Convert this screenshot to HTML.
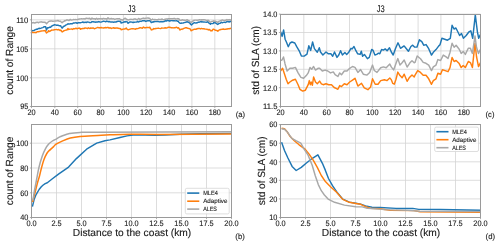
<!DOCTYPE html>
<html><head><meta charset="utf-8"><style>
html,body{margin:0;padding:0;background:#fff;width:500px;height:246px;overflow:hidden}
svg{display:block;will-change:transform;text-rendering:geometricPrecision}
</style></head><body>
<svg width="500" height="246" viewBox="0 0 500 246" font-family='"Liberation Sans", sans-serif'>
<rect width="500" height="246" fill="#fff"/>
<g>
<line x1="31.5" y1="14.5" x2="31.5" y2="106.5" stroke="#d4d4d4" stroke-width="0.8"/>
<line x1="54.8" y1="14.5" x2="54.8" y2="106.5" stroke="#d4d4d4" stroke-width="0.8"/>
<line x1="77.7" y1="14.5" x2="77.7" y2="106.5" stroke="#d4d4d4" stroke-width="0.8"/>
<line x1="100.5" y1="14.5" x2="100.5" y2="106.5" stroke="#d4d4d4" stroke-width="0.8"/>
<line x1="123.4" y1="14.5" x2="123.4" y2="106.5" stroke="#d4d4d4" stroke-width="0.8"/>
<line x1="146.2" y1="14.5" x2="146.2" y2="106.5" stroke="#d4d4d4" stroke-width="0.8"/>
<line x1="169.1" y1="14.5" x2="169.1" y2="106.5" stroke="#d4d4d4" stroke-width="0.8"/>
<line x1="191.9" y1="14.5" x2="191.9" y2="106.5" stroke="#d4d4d4" stroke-width="0.8"/>
<line x1="214.8" y1="14.5" x2="214.8" y2="106.5" stroke="#d4d4d4" stroke-width="0.8"/>
<line x1="31.5" y1="106.5" x2="231.5" y2="106.5" stroke="#d4d4d4" stroke-width="0.8"/>
<line x1="31.5" y1="77.8" x2="231.5" y2="77.8" stroke="#d4d4d4" stroke-width="0.8"/>
<line x1="31.5" y1="48.8" x2="231.5" y2="48.8" stroke="#d4d4d4" stroke-width="0.8"/>
<line x1="31.5" y1="19.8" x2="231.5" y2="19.8" stroke="#d4d4d4" stroke-width="0.8"/>
<line x1="31.5" y1="124.5" x2="31.5" y2="217.5" stroke="#d4d4d4" stroke-width="0.8"/>
<line x1="56.5" y1="124.5" x2="56.5" y2="217.5" stroke="#d4d4d4" stroke-width="0.8"/>
<line x1="81.5" y1="124.5" x2="81.5" y2="217.5" stroke="#d4d4d4" stroke-width="0.8"/>
<line x1="106.5" y1="124.5" x2="106.5" y2="217.5" stroke="#d4d4d4" stroke-width="0.8"/>
<line x1="131.5" y1="124.5" x2="131.5" y2="217.5" stroke="#d4d4d4" stroke-width="0.8"/>
<line x1="156.5" y1="124.5" x2="156.5" y2="217.5" stroke="#d4d4d4" stroke-width="0.8"/>
<line x1="181.5" y1="124.5" x2="181.5" y2="217.5" stroke="#d4d4d4" stroke-width="0.8"/>
<line x1="206.5" y1="124.5" x2="206.5" y2="217.5" stroke="#d4d4d4" stroke-width="0.8"/>
<line x1="231.5" y1="124.5" x2="231.5" y2="217.5" stroke="#d4d4d4" stroke-width="0.8"/>
<line x1="31.5" y1="217.5" x2="231.5" y2="217.5" stroke="#d4d4d4" stroke-width="0.8"/>
<line x1="31.5" y1="192.8" x2="231.5" y2="192.8" stroke="#d4d4d4" stroke-width="0.8"/>
<line x1="31.5" y1="168.0" x2="231.5" y2="168.0" stroke="#d4d4d4" stroke-width="0.8"/>
<line x1="31.5" y1="143.2" x2="231.5" y2="143.2" stroke="#d4d4d4" stroke-width="0.8"/>
<line x1="280.5" y1="14.5" x2="280.5" y2="106.5" stroke="#d4d4d4" stroke-width="0.8"/>
<line x1="303.8" y1="14.5" x2="303.8" y2="106.5" stroke="#d4d4d4" stroke-width="0.8"/>
<line x1="326.7" y1="14.5" x2="326.7" y2="106.5" stroke="#d4d4d4" stroke-width="0.8"/>
<line x1="349.5" y1="14.5" x2="349.5" y2="106.5" stroke="#d4d4d4" stroke-width="0.8"/>
<line x1="372.4" y1="14.5" x2="372.4" y2="106.5" stroke="#d4d4d4" stroke-width="0.8"/>
<line x1="395.2" y1="14.5" x2="395.2" y2="106.5" stroke="#d4d4d4" stroke-width="0.8"/>
<line x1="418.1" y1="14.5" x2="418.1" y2="106.5" stroke="#d4d4d4" stroke-width="0.8"/>
<line x1="440.9" y1="14.5" x2="440.9" y2="106.5" stroke="#d4d4d4" stroke-width="0.8"/>
<line x1="463.8" y1="14.5" x2="463.8" y2="106.5" stroke="#d4d4d4" stroke-width="0.8"/>
<line x1="280.5" y1="106.5" x2="480.5" y2="106.5" stroke="#d4d4d4" stroke-width="0.8"/>
<line x1="280.5" y1="87.7" x2="480.5" y2="87.7" stroke="#d4d4d4" stroke-width="0.8"/>
<line x1="280.5" y1="69.3" x2="480.5" y2="69.3" stroke="#d4d4d4" stroke-width="0.8"/>
<line x1="280.5" y1="50.9" x2="480.5" y2="50.9" stroke="#d4d4d4" stroke-width="0.8"/>
<line x1="280.5" y1="32.5" x2="480.5" y2="32.5" stroke="#d4d4d4" stroke-width="0.8"/>
<line x1="280.5" y1="14.1" x2="480.5" y2="14.1" stroke="#d4d4d4" stroke-width="0.8"/>
<line x1="280.5" y1="124.5" x2="280.5" y2="217.5" stroke="#d4d4d4" stroke-width="0.8"/>
<line x1="305.5" y1="124.5" x2="305.5" y2="217.5" stroke="#d4d4d4" stroke-width="0.8"/>
<line x1="330.5" y1="124.5" x2="330.5" y2="217.5" stroke="#d4d4d4" stroke-width="0.8"/>
<line x1="355.5" y1="124.5" x2="355.5" y2="217.5" stroke="#d4d4d4" stroke-width="0.8"/>
<line x1="380.5" y1="124.5" x2="380.5" y2="217.5" stroke="#d4d4d4" stroke-width="0.8"/>
<line x1="405.5" y1="124.5" x2="405.5" y2="217.5" stroke="#d4d4d4" stroke-width="0.8"/>
<line x1="430.5" y1="124.5" x2="430.5" y2="217.5" stroke="#d4d4d4" stroke-width="0.8"/>
<line x1="455.5" y1="124.5" x2="455.5" y2="217.5" stroke="#d4d4d4" stroke-width="0.8"/>
<line x1="480.5" y1="124.5" x2="480.5" y2="217.5" stroke="#d4d4d4" stroke-width="0.8"/>
<line x1="280.5" y1="217.5" x2="480.5" y2="217.5" stroke="#d4d4d4" stroke-width="0.8"/>
<line x1="280.5" y1="198.9" x2="480.5" y2="198.9" stroke="#d4d4d4" stroke-width="0.8"/>
<line x1="280.5" y1="180.3" x2="480.5" y2="180.3" stroke="#d4d4d4" stroke-width="0.8"/>
<line x1="280.5" y1="161.8" x2="480.5" y2="161.8" stroke="#d4d4d4" stroke-width="0.8"/>
<line x1="280.5" y1="143.2" x2="480.5" y2="143.2" stroke="#d4d4d4" stroke-width="0.8"/>
<line x1="280.5" y1="124.6" x2="480.5" y2="124.6" stroke="#d4d4d4" stroke-width="0.8"/>
</g>
<polyline points="31.4,30.5 31.4,30.1 32.5,30.8 33.7,30.6 33.9,30.6 34.8,29.9 35.8,29.6 36.0,29.2 37.1,29.3 38.3,28.7 39.4,28.2 39.7,28.6 40.5,28.4 41.7,27.9 42.8,27.6 43.6,27.2 44.0,26.8 45.1,26.8 45.6,26.7 46.3,29.2 46.5,30.1 47.4,27.8 47.5,28.1 48.5,27.8 49.7,27.1 50.8,27.2 51.4,26.2 52.0,26.0 53.1,25.3 54.3,25.1 54.3,24.7 55.4,24.9 56.5,25.3 57.3,25.2 57.7,25.1 58.8,25.5 60.0,25.9 60.7,25.7 61.1,26.6 62.1,28.1 62.3,28.0 63.4,26.5 64.1,26.2 64.5,26.1 65.7,25.2 66.8,24.7 68.0,23.9 68.0,23.8 69.1,24.1 70.3,23.8 70.9,23.8 71.4,23.8 72.5,23.7 73.7,22.9 74.8,22.9 75.8,22.8 76.0,22.6 77.1,23.3 78.3,22.6 79.4,22.8 80.5,22.7 81.7,22.4 82.8,22.0 84.0,22.7 85.1,22.2 85.5,22.3 86.3,22.5 87.4,21.9 88.6,22.1 89.7,22.5 90.8,22.6 92.0,21.7 93.1,21.7 94.3,22.0 95.3,22.0 95.4,22.2 96.6,22.0 97.7,22.0 98.8,21.6 100.0,22.0 101.1,22.1 102.3,21.6 103.4,21.3 104.6,21.4 105.7,21.8 106.0,21.6 106.8,21.1 108.0,21.7 109.1,21.5 110.3,21.9 111.4,21.9 111.8,22.0 112.6,21.9 113.7,22.3 114.8,21.9 116.0,22.0 117.1,21.5 118.3,21.3 119.4,21.4 119.6,21.3 120.6,21.5 121.1,23.0 121.7,22.8 122.8,22.5 123.5,22.3 124.0,21.8 125.1,22.0 126.3,21.5 126.4,21.6 127.4,22.0 127.9,23.3 128.6,22.9 129.7,22.0 130.3,22.0 130.8,21.9 132.0,22.1 133.1,22.7 133.3,22.3 134.3,22.2 135.4,22.1 136.6,22.1 137.7,21.3 138.1,21.8 138.8,22.0 140.0,21.2 141.1,21.4 142.3,20.8 143.4,20.6 144.0,20.8 144.6,20.7 145.7,21.4 146.8,21.0 148.0,20.6 149.1,20.7 149.8,20.8 150.3,21.0 151.3,22.6 151.4,22.6 152.6,22.0 153.7,21.8 153.7,22.0 154.8,21.4 156.0,21.6 157.1,21.5 158.3,21.5 159.4,21.9 160.6,21.7 161.5,21.6 161.7,21.7 162.8,21.8 164.0,21.6 165.1,20.7 166.3,21.1 167.4,20.3 168.6,20.7 169.3,20.6 169.7,21.2 170.8,20.6 172.0,20.6 173.1,20.8 174.3,20.8 175.4,20.9 176.6,20.7 177.7,21.3 178.1,21.0 178.8,22.2 180.0,23.2 180.0,23.3 181.1,23.2 182.0,23.0 182.3,23.1 183.4,23.0 183.9,22.6 184.6,22.5 185.7,22.3 186.8,21.8 186.8,21.7 188.0,22.0 189.1,22.6 189.8,23.0 190.3,23.9 191.2,24.7 191.4,24.9 192.6,23.9 193.7,23.0 194.6,22.6 194.8,22.7 196.0,23.0 197.1,22.8 198.3,22.1 199.4,22.2 200.6,21.6 201.5,22.0 201.7,21.6 202.9,22.0 204.0,21.9 205.1,22.1 206.3,22.2 207.4,22.0 207.9,21.7 208.6,22.8 209.7,23.3 210.4,24.2 210.9,23.6 212.0,23.6 213.1,23.6 213.8,22.5 214.3,22.8 215.4,22.8 216.6,23.7 217.7,24.5 218.1,24.2 218.9,23.5 220.0,23.4 221.1,22.5 221.1,22.3 222.3,22.7 223.4,22.4 224.6,22.2 225.7,22.5 226.9,21.6 227.4,21.7 228.0,21.4 229.1,22.1 230.3,21.2 231.4,22.0 231.5,21.3" fill="none" stroke="#1f77b4" stroke-width="1.45" stroke-linejoin="round" stroke-linecap="butt"/>
<polyline points="31.4,33.2 31.4,32.5 32.5,32.3 33.7,32.6 34.8,32.5 35.8,32.5 36.0,32.7 37.1,31.8 38.3,31.8 39.4,31.4 39.7,31.6 40.5,31.1 41.7,31.0 42.8,30.9 44.0,30.7 45.1,30.6 45.1,30.4 46.3,32.7 46.5,33.0 47.4,32.2 48.5,31.6 48.5,30.6 49.7,31.5 50.8,30.6 52.0,30.0 52.4,30.1 53.1,30.1 54.3,29.8 55.3,29.6 55.4,29.6 56.5,29.5 57.7,29.9 58.8,29.5 60.0,30.5 60.7,30.1 61.1,30.3 62.1,32.0 62.3,31.8 63.4,31.1 64.1,30.6 64.5,30.6 65.7,30.1 66.8,30.0 68.0,28.5 68.0,29.6 69.1,29.3 70.3,29.1 70.9,29.1 71.4,28.9 72.5,29.4 73.7,28.6 74.8,28.8 76.0,28.2 77.1,28.8 78.3,28.2 79.4,28.1 80.5,29.3 80.6,28.6 81.7,28.8 82.8,28.5 84.0,28.5 85.1,28.0 86.3,28.1 87.4,28.5 88.6,27.8 89.7,28.5 90.4,28.4 90.8,27.8 92.0,28.3 93.1,27.9 94.3,28.7 95.4,28.4 96.6,27.9 97.7,27.4 98.8,27.7 100.0,27.8 100.1,27.9 101.1,27.5 102.3,27.9 103.4,28.0 104.6,27.7 105.7,27.5 106.0,27.7 106.8,27.7 106.9,27.5 108.0,27.5 109.1,28.0 110.3,27.8 111.4,28.5 111.8,28.1 112.6,28.0 113.7,27.8 114.8,28.2 116.0,28.0 117.1,28.0 118.3,28.3 119.4,28.6 119.6,28.4 120.6,28.6 121.1,29.8 121.7,29.6 122.8,29.2 123.5,29.1 124.0,28.9 125.1,28.9 126.3,28.0 126.4,28.4 127.4,29.4 128.2,29.8 128.6,29.6 129.7,29.3 130.3,29.1 130.8,28.9 132.0,28.8 133.1,28.7 134.3,28.9 135.4,29.3 136.2,28.6 136.6,28.8 137.7,28.6 138.8,28.3 140.0,27.7 141.1,27.7 141.1,27.9 142.3,28.2 143.4,27.1 144.0,27.5 144.6,27.7 145.7,27.7 146.8,27.4 148.0,27.5 149.1,27.6 149.8,27.2 150.3,28.6 151.3,29.6 151.4,29.9 152.6,29.6 153.7,28.6 153.7,28.7 154.8,28.8 156.0,28.5 157.1,28.4 158.3,28.1 159.4,28.4 160.6,28.6 161.5,28.1 161.7,28.0 162.8,28.1 164.0,28.1 165.1,27.8 166.3,28.0 167.4,27.7 168.6,27.2 169.3,27.5 169.7,27.2 170.8,27.7 172.0,27.7 173.1,27.9 174.3,27.7 175.4,27.7 176.6,27.2 177.7,28.1 178.1,27.7 178.8,28.2 180.0,30.1 180.0,29.8 181.1,29.2 182.0,29.4 182.3,29.0 183.4,28.7 183.9,28.4 184.6,28.1 185.7,27.7 186.8,27.7 186.8,28.0 188.0,28.3 189.1,28.5 189.8,28.6 190.3,29.2 191.2,30.8 191.4,30.4 192.6,30.0 193.7,29.4 194.6,29.1 194.8,29.1 196.0,29.2 197.1,28.8 198.3,28.5 199.4,28.4 200.6,28.9 201.5,28.4 201.7,28.5 202.9,28.7 204.0,28.8 205.1,29.1 206.3,29.1 207.4,29.6 207.9,29.3 208.6,29.9 209.7,29.5 210.4,30.7 210.9,30.5 212.0,30.9 213.1,29.2 213.8,29.3 214.3,29.5 215.4,30.3 216.6,30.4 217.7,31.2 218.1,31.0 218.9,30.2 220.0,29.7 221.1,29.5 221.1,29.4 222.3,29.2 223.4,29.0 224.6,29.4 225.7,29.2 226.9,29.0 227.4,29.0 228.0,28.8 229.1,28.8 230.3,28.5 231.4,28.2 231.5,28.4" fill="none" stroke="#ff7f0e" stroke-width="1.45" stroke-linejoin="round" stroke-linecap="butt"/>
<polyline points="31.4,22.3 31.4,22.3 32.5,22.9 33.7,22.5 33.9,22.8 34.8,23.0 36.0,22.5 37.1,22.3 37.8,22.3 38.3,22.8 39.4,22.1 40.5,21.9 41.7,22.0 41.7,21.8 42.8,22.3 44.0,22.1 45.1,22.3 45.1,22.5 46.3,23.2 46.5,23.8 47.4,22.8 48.5,21.8 48.5,21.7 49.7,21.2 50.8,21.0 52.0,20.9 52.4,21.3 53.1,21.2 54.3,21.1 55.4,20.9 56.5,20.9 57.3,20.8 57.7,20.5 58.8,21.0 60.0,21.3 60.7,21.3 61.1,22.0 62.1,22.8 62.3,22.4 63.4,21.7 64.1,21.3 64.5,20.6 65.7,20.7 66.8,19.9 68.0,19.9 68.0,20.3 69.1,20.5 70.3,19.4 71.4,20.1 72.5,19.9 73.7,19.5 74.8,19.6 75.8,19.4 76.0,19.5 77.1,19.6 78.3,19.2 79.4,19.0 80.5,18.9 81.7,18.7 82.8,18.9 84.0,18.6 85.1,19.0 85.5,18.7 86.3,18.2 87.4,18.4 88.6,18.5 89.7,18.2 90.8,19.4 92.0,18.1 93.1,18.8 94.3,18.7 95.3,18.9 95.4,19.4 96.6,18.3 97.7,19.2 98.8,18.6 100.0,18.8 101.1,18.6 102.3,19.0 103.4,18.4 104.6,18.7 105.7,18.8 106.0,18.7 106.8,19.2 108.0,17.8 108.9,18.4 109.1,18.9 110.3,18.8 111.4,18.5 112.6,18.9 113.7,18.7 113.8,18.9 114.8,19.4 116.0,18.9 117.1,18.7 118.3,18.7 119.4,18.6 119.6,18.7 120.6,19.5 121.1,20.0 121.7,19.6 122.8,20.2 123.5,19.4 124.0,18.8 125.1,18.2 126.3,19.1 126.4,19.1 127.4,19.7 127.9,20.0 128.6,19.9 129.7,19.5 130.3,19.4 130.8,19.3 132.0,19.4 133.1,19.5 134.3,19.0 135.4,19.0 136.6,19.6 137.7,19.1 138.1,18.9 138.8,18.5 140.0,19.4 141.1,18.9 142.3,18.4 143.4,18.1 144.0,18.4 144.6,18.5 145.7,18.2 146.8,18.1 148.0,18.0 149.1,18.2 149.8,18.4 150.3,19.2 151.3,20.0 151.4,19.8 152.6,19.0 152.7,19.4 153.7,19.6 154.8,19.4 156.0,19.7 157.1,19.8 158.3,19.3 159.4,19.4 160.6,19.4 161.5,19.4 161.7,19.0 162.8,19.5 164.0,19.7 165.1,19.2 166.3,19.0 167.4,18.9 168.6,18.7 169.3,18.9 169.7,18.7 170.8,18.8 172.0,18.6 173.1,18.8 174.3,18.4 175.4,19.0 176.6,18.9 177.7,18.6 178.1,18.9 178.8,18.8 180.0,20.3 180.0,20.3 181.1,20.4 182.0,19.9 182.3,19.7 183.4,20.1 183.9,20.3 184.6,20.1 185.7,20.4 186.8,19.8 187.8,20.0 188.0,20.4 189.1,20.8 190.3,22.0 191.2,22.3 191.4,22.2 192.6,21.4 193.7,20.4 194.6,20.3 194.8,20.1 196.0,20.1 197.1,20.3 198.3,20.1 199.4,19.7 200.6,19.9 201.5,19.7 201.7,20.0 202.9,19.8 204.0,19.8 205.1,19.9 206.3,20.4 207.4,20.4 207.9,20.3 208.6,20.5 209.7,21.8 210.4,22.2 210.9,21.9 212.0,21.3 213.1,21.4 213.8,20.8 214.3,21.2 215.4,21.2 216.6,21.8 217.7,22.2 217.7,22.3 218.9,21.4 220.0,20.9 220.6,20.6 221.1,20.8 222.3,19.9 223.4,20.4 224.6,20.5 225.7,20.3 226.9,19.6 227.4,20.0 228.0,20.0 229.1,19.6 230.3,19.9 231.4,19.8 231.5,19.6" fill="none" stroke="#a8a8a8" stroke-width="1.45" stroke-linejoin="round" stroke-linecap="butt"/>
<polyline points="32.4,206.7 34.1,199.6 36.1,194.6 39.1,189.5 41.3,186.8 43.2,185.0 45.2,183.6 47.3,182.8 52.4,178.8 58.5,174.2 68.6,167.1 76.4,158.6 86.6,149.2 96.7,143.1 104.9,140.7 110.0,139.9 120.0,137.5 127.0,135.9 133.0,135.1 145.0,135.1 155.0,135.3 165.0,135.0 180.0,134.3 200.0,133.8 231.5,133.4" fill="none" stroke="#1f77b4" stroke-width="1.45" stroke-linejoin="round" stroke-linecap="butt"/>
<path d="M32.60,202.00 C32.98,200.50 34.12,196.08 34.90,193.00 C35.68,189.92 36.53,186.33 37.30,183.50 C38.07,180.67 38.85,178.42 39.50,176.00 C40.15,173.58 40.48,171.67 41.20,169.00 C41.92,166.33 42.82,162.67 43.80,160.00 C44.78,157.33 46.02,154.73 47.10,153.00 C48.18,151.27 49.22,150.67 50.30,149.60 C51.38,148.53 52.63,147.52 53.60,146.60 C54.57,145.68 54.67,145.02 56.10,144.10 C57.53,143.18 59.83,142.12 62.20,141.10 C64.57,140.08 67.33,138.78 70.30,138.00 C73.27,137.22 75.38,136.83 80.00,136.40 C84.62,135.97 93.00,135.67 98.00,135.40 C103.00,135.13 104.67,135.00 110.00,134.80 C115.33,134.60 121.67,134.27 130.00,134.20 C138.33,134.13 143.08,134.45 160.00,134.40 C176.92,134.35 219.58,133.98 231.50,133.90" fill="none" stroke="#ff7f0e" stroke-width="1.5" stroke-linejoin="round"/>
<path d="M32.90,200.50 C33.17,198.83 33.90,193.92 34.50,190.50 C35.10,187.08 35.77,183.82 36.50,180.00 C37.23,176.18 37.95,171.55 38.90,167.60 C39.85,163.65 41.12,159.42 42.20,156.30 C43.28,153.18 44.32,150.93 45.40,148.90 C46.48,146.87 47.53,145.42 48.70,144.10 C49.87,142.78 51.35,141.73 52.40,141.00 C53.45,140.27 53.85,140.33 55.00,139.70 C56.15,139.07 58.13,137.82 59.30,137.20 C60.47,136.58 60.30,136.62 62.00,136.00 C63.70,135.38 66.50,134.10 69.50,133.50 C72.50,132.90 75.25,132.62 80.00,132.40 C84.75,132.18 72.75,132.30 98.00,132.20 C123.25,132.10 209.25,131.87 231.50,131.80" fill="none" stroke="#a8a8a8" stroke-width="1.5" stroke-linejoin="round"/>
<polyline points="280.6,31.8 282.1,36.4 283.6,29.9 285.1,39.2 286.4,42.0 288.3,46.7 290.1,43.0 292.0,42.0 294.8,43.0 296.7,46.7 299.5,51.4 301.4,56.1 304.2,56.1 307.0,54.2 308.8,45.8 310.7,50.4 312.6,42.0 314.4,48.6 317.3,52.3 319.3,47.7 320.5,52.0 322.9,55.0 326.0,52.0 328.4,53.8 330.9,53.8 332.7,56.2 334.5,52.0 337.0,57.4 338.8,55.0 340.6,50.7 342.4,55.0 344.9,52.6 346.7,54.4 348.5,52.6 351.0,48.3 352.2,48.9 354.0,46.5 355.9,50.7 357.7,53.8 360.1,54.4 361.3,51.3 362.6,56.2 364.4,54.4 367.4,58.7 369.3,57.4 371.7,49.5 372.9,50.1 374.9,55.0 376.7,54.4 378.5,53.2 379.8,53.8 381.6,49.5 383.4,50.1 385.2,48.9 387.1,50.7 389.5,47.7 391.3,52.0 393.2,55.0 395.6,48.3 398.0,42.8 400.5,48.3 404.1,45.9 406.0,48.3 408.4,51.3 410.9,46.5 412.7,45.2 414.5,47.1 417.0,47.1 419.4,39.8 421.8,41.6 423.7,45.2 426.1,44.6 428.7,48.7 431.5,55.1 433.3,52.3 436.0,49.6 438.8,45.9 440.0,44.8 441.9,38.3 444.7,39.2 447.5,40.2 450.3,38.3 452.1,25.2 454.0,29.0 455.9,28.0 457.8,31.8 459.6,35.5 461.5,33.6 463.4,38.3 466.2,35.5 469.0,31.8 470.8,30.8 472.7,38.3 475.3,14.9 477.4,31.8 478.7,38.3 480.4,34.6" fill="none" stroke="#1f77b4" stroke-width="1.45" stroke-linejoin="round" stroke-linecap="butt"/>
<polyline points="280.5,71.0 282.6,68.3 284.4,73.8 286.2,79.3 288.0,83.8 289.9,82.0 292.6,80.2 295.4,79.3 298.1,84.7 299.9,89.3 302.7,91.1 305.4,90.2 308.2,84.7 309.3,80.6 310.3,84.7 311.3,82.1 312.4,85.2 313.6,77.0 315.5,82.0 317.3,83.8 319.6,81.1 321.4,83.8 323.2,84.7 326.0,83.8 328.7,84.7 331.5,84.7 334.2,87.5 336.0,88.4 337.9,89.3 339.7,85.6 341.5,86.6 344.3,83.8 347.0,84.7 349.7,82.0 352.5,80.2 355.0,78.3 357.9,86.1 361.5,83.3 364.3,87.9 367.9,89.7 370.6,87.0 372.5,78.8 375.2,84.3 378.0,84.3 380.7,80.6 384.4,79.7 387.1,80.6 389.8,77.9 391.4,79.9 392.8,83.4 394.3,84.2 396.0,79.2 397.8,72.1 400.0,75.6 402.1,77.8 404.2,74.2 407.1,81.3 409.2,77.8 412.0,74.9 414.2,77.0 415.0,75.2 417.7,70.6 420.5,72.4 423.2,75.2 426.0,75.2 428.7,78.8 431.5,84.3 433.3,80.6 436.0,78.8 437.9,73.3 440.6,74.3 442.4,69.7 445.2,70.6 448.0,71.7 450.0,67.6 452.1,57.5 454.1,61.5 456.1,60.5 459.2,63.6 461.2,67.6 463.2,65.6 465.3,67.6 468.3,61.5 470.4,62.6 472.4,67.6 475.0,43.2 476.5,56.5 478.5,66.6 480.5,62.6" fill="none" stroke="#ff7f0e" stroke-width="1.45" stroke-linejoin="round" stroke-linecap="butt"/>
<polyline points="280.5,60.5 282.0,60.0 283.5,57.0 285.0,63.7 287.1,71.0 289.9,68.3 292.6,68.3 295.4,67.4 298.1,72.9 300.9,77.4 303.6,78.3 306.3,75.6 308.2,72.9 310.0,67.4 311.8,69.2 313.6,66.5 315.5,70.1 318.0,68.3 319.6,68.3 322.3,71.0 325.1,70.1 327.8,71.0 330.5,72.9 333.3,71.9 335.1,74.7 337.9,76.5 339.7,72.9 341.5,74.7 344.3,71.0 347.0,71.0 349.7,68.3 352.5,66.5 355.0,67.4 357.9,72.4 360.6,69.6 363.3,74.2 367.0,75.1 369.7,72.4 372.5,65.1 374.3,70.5 377.0,72.4 380.7,67.8 383.4,66.9 386.2,67.8 389.8,64.1 391.4,67.1 393.6,69.9 395.7,64.2 397.8,58.6 400.0,65.0 402.1,62.8 404.2,60.0 407.1,67.1 409.9,62.8 412.0,60.7 414.2,62.8 415.0,62.4 417.2,56.0 420.5,58.7 423.2,62.4 426.0,63.3 428.7,65.1 431.5,70.6 433.3,66.9 436.0,65.1 437.9,59.6 440.6,60.5 443.3,55.1 446.1,56.9 448.0,58.5 450.0,52.4 452.1,43.2 454.1,47.3 456.1,45.3 459.2,49.3 461.2,53.4 463.2,51.4 465.3,54.4 468.3,48.3 470.4,48.3 472.4,53.4 475.0,36.0 476.5,47.3 478.5,53.4 480.5,49.3" fill="none" stroke="#a8a8a8" stroke-width="1.45" stroke-linejoin="round" stroke-linecap="butt"/>
<polyline points="281.6,142.3 284.5,150.5 287.8,157.8 292.1,166.4 296.2,170.5 301.3,167.4 306.1,163.3 311.2,159.2 317.9,154.8 322.4,163.3 325.4,170.4 328.5,178.5 332.5,185.7 336.6,191.7 342.8,199.2 349.3,202.1 355.8,203.3 360.7,204.1 365.5,205.9 372.0,207.2 380.0,207.5 396.0,208.4 412.8,208.4 418.8,209.4 440.0,209.5 480.5,210.3" fill="none" stroke="#1f77b4" stroke-width="1.45" stroke-linejoin="round" stroke-linecap="butt"/>
<polyline points="281.6,128.2 284.5,128.8 286.9,131.4 290.2,136.6 294.3,140.7 299.1,144.8 305.1,149.1 309.1,154.1 313.2,160.2 317.3,167.4 321.3,175.5 325.4,181.6 330.5,186.7 336.6,192.2 342.8,199.4 349.3,202.3 355.8,203.5 360.7,204.3 365.5,206.7 370.4,208.3 380.0,208.8 390.0,210.4 414.0,210.6 420.0,211.8 480.5,212.2" fill="none" stroke="#ff7f0e" stroke-width="1.45" stroke-linejoin="round" stroke-linecap="butt"/>
<polyline points="281.6,128.8 284.5,129.3 287.8,132.6 291.8,138.3 295.9,140.7 300.8,143.1 304.1,149.1 308.1,155.2 312.2,165.3 315.2,175.5 318.3,184.6 321.3,190.7 324.4,195.0 328.1,199.1 334.6,202.3 344.4,205.1 355.8,206.7 362.3,206.9 367.2,208.3 380.0,209.1 384.0,209.6 408.0,210.4 420.0,211.2 480.5,211.5" fill="none" stroke="#a8a8a8" stroke-width="1.45" stroke-linejoin="round" stroke-linecap="butt"/>
<rect x="31.5" y="14.5" width="200.0" height="92.0" fill="none" stroke="#9a9a9a" stroke-width="1"/>
<line x1="31.5" y1="106.5" x2="31.5" y2="108.1" stroke="#9a9a9a" stroke-width="0.8"/>
<line x1="54.8" y1="106.5" x2="54.8" y2="108.1" stroke="#9a9a9a" stroke-width="0.8"/>
<line x1="77.7" y1="106.5" x2="77.7" y2="108.1" stroke="#9a9a9a" stroke-width="0.8"/>
<line x1="100.5" y1="106.5" x2="100.5" y2="108.1" stroke="#9a9a9a" stroke-width="0.8"/>
<line x1="123.4" y1="106.5" x2="123.4" y2="108.1" stroke="#9a9a9a" stroke-width="0.8"/>
<line x1="146.2" y1="106.5" x2="146.2" y2="108.1" stroke="#9a9a9a" stroke-width="0.8"/>
<line x1="169.1" y1="106.5" x2="169.1" y2="108.1" stroke="#9a9a9a" stroke-width="0.8"/>
<line x1="191.9" y1="106.5" x2="191.9" y2="108.1" stroke="#9a9a9a" stroke-width="0.8"/>
<line x1="214.8" y1="106.5" x2="214.8" y2="108.1" stroke="#9a9a9a" stroke-width="0.8"/>
<line x1="29.9" y1="106.5" x2="31.5" y2="106.5" stroke="#9a9a9a" stroke-width="0.8"/>
<line x1="29.9" y1="77.8" x2="31.5" y2="77.8" stroke="#9a9a9a" stroke-width="0.8"/>
<line x1="29.9" y1="48.8" x2="31.5" y2="48.8" stroke="#9a9a9a" stroke-width="0.8"/>
<line x1="29.9" y1="19.8" x2="31.5" y2="19.8" stroke="#9a9a9a" stroke-width="0.8"/>
<rect x="31.5" y="124.5" width="200.0" height="93.0" fill="none" stroke="#9a9a9a" stroke-width="1"/>
<line x1="31.5" y1="217.5" x2="31.5" y2="219.1" stroke="#9a9a9a" stroke-width="0.8"/>
<line x1="56.5" y1="217.5" x2="56.5" y2="219.1" stroke="#9a9a9a" stroke-width="0.8"/>
<line x1="81.5" y1="217.5" x2="81.5" y2="219.1" stroke="#9a9a9a" stroke-width="0.8"/>
<line x1="106.5" y1="217.5" x2="106.5" y2="219.1" stroke="#9a9a9a" stroke-width="0.8"/>
<line x1="131.5" y1="217.5" x2="131.5" y2="219.1" stroke="#9a9a9a" stroke-width="0.8"/>
<line x1="156.5" y1="217.5" x2="156.5" y2="219.1" stroke="#9a9a9a" stroke-width="0.8"/>
<line x1="181.5" y1="217.5" x2="181.5" y2="219.1" stroke="#9a9a9a" stroke-width="0.8"/>
<line x1="206.5" y1="217.5" x2="206.5" y2="219.1" stroke="#9a9a9a" stroke-width="0.8"/>
<line x1="231.5" y1="217.5" x2="231.5" y2="219.1" stroke="#9a9a9a" stroke-width="0.8"/>
<line x1="29.9" y1="217.5" x2="31.5" y2="217.5" stroke="#9a9a9a" stroke-width="0.8"/>
<line x1="29.9" y1="192.8" x2="31.5" y2="192.8" stroke="#9a9a9a" stroke-width="0.8"/>
<line x1="29.9" y1="168.0" x2="31.5" y2="168.0" stroke="#9a9a9a" stroke-width="0.8"/>
<line x1="29.9" y1="143.2" x2="31.5" y2="143.2" stroke="#9a9a9a" stroke-width="0.8"/>
<rect x="280.5" y="14.5" width="200.0" height="92.0" fill="none" stroke="#9a9a9a" stroke-width="1"/>
<line x1="280.5" y1="106.5" x2="280.5" y2="108.1" stroke="#9a9a9a" stroke-width="0.8"/>
<line x1="303.8" y1="106.5" x2="303.8" y2="108.1" stroke="#9a9a9a" stroke-width="0.8"/>
<line x1="326.7" y1="106.5" x2="326.7" y2="108.1" stroke="#9a9a9a" stroke-width="0.8"/>
<line x1="349.5" y1="106.5" x2="349.5" y2="108.1" stroke="#9a9a9a" stroke-width="0.8"/>
<line x1="372.4" y1="106.5" x2="372.4" y2="108.1" stroke="#9a9a9a" stroke-width="0.8"/>
<line x1="395.2" y1="106.5" x2="395.2" y2="108.1" stroke="#9a9a9a" stroke-width="0.8"/>
<line x1="418.1" y1="106.5" x2="418.1" y2="108.1" stroke="#9a9a9a" stroke-width="0.8"/>
<line x1="440.9" y1="106.5" x2="440.9" y2="108.1" stroke="#9a9a9a" stroke-width="0.8"/>
<line x1="463.8" y1="106.5" x2="463.8" y2="108.1" stroke="#9a9a9a" stroke-width="0.8"/>
<line x1="278.9" y1="106.5" x2="280.5" y2="106.5" stroke="#9a9a9a" stroke-width="0.8"/>
<line x1="278.9" y1="87.7" x2="280.5" y2="87.7" stroke="#9a9a9a" stroke-width="0.8"/>
<line x1="278.9" y1="69.3" x2="280.5" y2="69.3" stroke="#9a9a9a" stroke-width="0.8"/>
<line x1="278.9" y1="50.9" x2="280.5" y2="50.9" stroke="#9a9a9a" stroke-width="0.8"/>
<line x1="278.9" y1="32.5" x2="280.5" y2="32.5" stroke="#9a9a9a" stroke-width="0.8"/>
<line x1="278.9" y1="14.1" x2="280.5" y2="14.1" stroke="#9a9a9a" stroke-width="0.8"/>
<rect x="280.5" y="124.5" width="200.0" height="93.0" fill="none" stroke="#9a9a9a" stroke-width="1"/>
<line x1="280.5" y1="217.5" x2="280.5" y2="219.1" stroke="#9a9a9a" stroke-width="0.8"/>
<line x1="305.5" y1="217.5" x2="305.5" y2="219.1" stroke="#9a9a9a" stroke-width="0.8"/>
<line x1="330.5" y1="217.5" x2="330.5" y2="219.1" stroke="#9a9a9a" stroke-width="0.8"/>
<line x1="355.5" y1="217.5" x2="355.5" y2="219.1" stroke="#9a9a9a" stroke-width="0.8"/>
<line x1="380.5" y1="217.5" x2="380.5" y2="219.1" stroke="#9a9a9a" stroke-width="0.8"/>
<line x1="405.5" y1="217.5" x2="405.5" y2="219.1" stroke="#9a9a9a" stroke-width="0.8"/>
<line x1="430.5" y1="217.5" x2="430.5" y2="219.1" stroke="#9a9a9a" stroke-width="0.8"/>
<line x1="455.5" y1="217.5" x2="455.5" y2="219.1" stroke="#9a9a9a" stroke-width="0.8"/>
<line x1="480.5" y1="217.5" x2="480.5" y2="219.1" stroke="#9a9a9a" stroke-width="0.8"/>
<line x1="278.9" y1="217.5" x2="280.5" y2="217.5" stroke="#9a9a9a" stroke-width="0.8"/>
<line x1="278.9" y1="198.9" x2="280.5" y2="198.9" stroke="#9a9a9a" stroke-width="0.8"/>
<line x1="278.9" y1="180.3" x2="280.5" y2="180.3" stroke="#9a9a9a" stroke-width="0.8"/>
<line x1="278.9" y1="161.8" x2="280.5" y2="161.8" stroke="#9a9a9a" stroke-width="0.8"/>
<line x1="278.9" y1="143.2" x2="280.5" y2="143.2" stroke="#9a9a9a" stroke-width="0.8"/>
<line x1="278.9" y1="124.6" x2="280.5" y2="124.6" stroke="#9a9a9a" stroke-width="0.8"/>
<g fill="#1a1a1a" stroke="#1a1a1a" stroke-width="0.12" font-family='"Liberation Sans", sans-serif'>
<text x="31.5" y="114.5" font-size="7.97" text-anchor="middle" textLength="8.18" lengthAdjust="spacingAndGlyphs">20</text>
<text x="54.8" y="114.5" font-size="7.97" text-anchor="middle" textLength="8.18" lengthAdjust="spacingAndGlyphs">40</text>
<text x="77.7" y="114.5" font-size="7.97" text-anchor="middle" textLength="8.18" lengthAdjust="spacingAndGlyphs">60</text>
<text x="100.5" y="114.5" font-size="7.97" text-anchor="middle" textLength="8.18" lengthAdjust="spacingAndGlyphs">80</text>
<text x="123.4" y="114.5" font-size="7.97" text-anchor="middle" textLength="12.27" lengthAdjust="spacingAndGlyphs">100</text>
<text x="146.2" y="114.5" font-size="7.97" text-anchor="middle" textLength="12.27" lengthAdjust="spacingAndGlyphs">120</text>
<text x="169.1" y="114.5" font-size="7.97" text-anchor="middle" textLength="12.27" lengthAdjust="spacingAndGlyphs">140</text>
<text x="191.9" y="114.5" font-size="7.97" text-anchor="middle" textLength="12.27" lengthAdjust="spacingAndGlyphs">160</text>
<text x="214.8" y="114.5" font-size="7.97" text-anchor="middle" textLength="12.27" lengthAdjust="spacingAndGlyphs">180</text>
<text x="280.5" y="114.5" font-size="7.97" text-anchor="middle" textLength="8.18" lengthAdjust="spacingAndGlyphs">20</text>
<text x="303.8" y="114.5" font-size="7.97" text-anchor="middle" textLength="8.18" lengthAdjust="spacingAndGlyphs">40</text>
<text x="326.7" y="114.5" font-size="7.97" text-anchor="middle" textLength="8.18" lengthAdjust="spacingAndGlyphs">60</text>
<text x="349.5" y="114.5" font-size="7.97" text-anchor="middle" textLength="8.18" lengthAdjust="spacingAndGlyphs">80</text>
<text x="372.4" y="114.5" font-size="7.97" text-anchor="middle" textLength="12.27" lengthAdjust="spacingAndGlyphs">100</text>
<text x="395.2" y="114.5" font-size="7.97" text-anchor="middle" textLength="12.27" lengthAdjust="spacingAndGlyphs">120</text>
<text x="418.1" y="114.5" font-size="7.97" text-anchor="middle" textLength="12.27" lengthAdjust="spacingAndGlyphs">140</text>
<text x="440.9" y="114.5" font-size="7.97" text-anchor="middle" textLength="12.27" lengthAdjust="spacingAndGlyphs">160</text>
<text x="463.8" y="114.5" font-size="7.97" text-anchor="middle" textLength="12.27" lengthAdjust="spacingAndGlyphs">180</text>
<text x="31.5" y="225.5" font-size="7.97" text-anchor="middle" textLength="10.23" lengthAdjust="spacingAndGlyphs">0.0</text>
<text x="56.5" y="225.5" font-size="7.97" text-anchor="middle" textLength="10.23" lengthAdjust="spacingAndGlyphs">2.5</text>
<text x="81.5" y="225.5" font-size="7.97" text-anchor="middle" textLength="10.23" lengthAdjust="spacingAndGlyphs">5.0</text>
<text x="106.5" y="225.5" font-size="7.97" text-anchor="middle" textLength="10.23" lengthAdjust="spacingAndGlyphs">7.5</text>
<text x="131.5" y="225.5" font-size="7.97" text-anchor="middle" textLength="14.32" lengthAdjust="spacingAndGlyphs">10.0</text>
<text x="156.5" y="225.5" font-size="7.97" text-anchor="middle" textLength="14.32" lengthAdjust="spacingAndGlyphs">12.5</text>
<text x="181.5" y="225.5" font-size="7.97" text-anchor="middle" textLength="14.32" lengthAdjust="spacingAndGlyphs">15.0</text>
<text x="206.5" y="225.5" font-size="7.97" text-anchor="middle" textLength="14.32" lengthAdjust="spacingAndGlyphs">17.5</text>
<text x="231.5" y="225.5" font-size="7.97" text-anchor="middle" textLength="14.32" lengthAdjust="spacingAndGlyphs">20.0</text>
<text x="280.5" y="225.5" font-size="7.97" text-anchor="middle" textLength="10.23" lengthAdjust="spacingAndGlyphs">0.0</text>
<text x="305.5" y="225.5" font-size="7.97" text-anchor="middle" textLength="10.23" lengthAdjust="spacingAndGlyphs">2.5</text>
<text x="330.5" y="225.5" font-size="7.97" text-anchor="middle" textLength="10.23" lengthAdjust="spacingAndGlyphs">5.0</text>
<text x="355.5" y="225.5" font-size="7.97" text-anchor="middle" textLength="10.23" lengthAdjust="spacingAndGlyphs">7.5</text>
<text x="380.5" y="225.5" font-size="7.97" text-anchor="middle" textLength="14.32" lengthAdjust="spacingAndGlyphs">10.0</text>
<text x="405.5" y="225.5" font-size="7.97" text-anchor="middle" textLength="14.32" lengthAdjust="spacingAndGlyphs">12.5</text>
<text x="430.5" y="225.5" font-size="7.97" text-anchor="middle" textLength="14.32" lengthAdjust="spacingAndGlyphs">15.0</text>
<text x="455.5" y="225.5" font-size="7.97" text-anchor="middle" textLength="14.32" lengthAdjust="spacingAndGlyphs">17.5</text>
<text x="480.5" y="225.5" font-size="7.97" text-anchor="middle" textLength="14.32" lengthAdjust="spacingAndGlyphs">20.0</text>
<text x="28.4" y="109.3" font-size="7.97" text-anchor="end" textLength="8.18" lengthAdjust="spacingAndGlyphs">95</text>
<text x="28.4" y="80.6" font-size="7.97" text-anchor="end" textLength="12.27" lengthAdjust="spacingAndGlyphs">100</text>
<text x="28.4" y="51.6" font-size="7.97" text-anchor="end" textLength="12.27" lengthAdjust="spacingAndGlyphs">105</text>
<text x="28.4" y="22.6" font-size="7.97" text-anchor="end" textLength="12.27" lengthAdjust="spacingAndGlyphs">110</text>
<text x="28.4" y="220.3" font-size="7.97" text-anchor="end" textLength="8.18" lengthAdjust="spacingAndGlyphs">40</text>
<text x="28.4" y="195.6" font-size="7.97" text-anchor="end" textLength="8.18" lengthAdjust="spacingAndGlyphs">60</text>
<text x="28.4" y="170.8" font-size="7.97" text-anchor="end" textLength="8.18" lengthAdjust="spacingAndGlyphs">80</text>
<text x="28.4" y="146.1" font-size="7.97" text-anchor="end" textLength="12.27" lengthAdjust="spacingAndGlyphs">100</text>
<text x="277.4" y="109.3" font-size="7.97" text-anchor="end" textLength="14.32" lengthAdjust="spacingAndGlyphs">11.5</text>
<text x="277.4" y="90.5" font-size="7.97" text-anchor="end" textLength="14.32" lengthAdjust="spacingAndGlyphs">12.0</text>
<text x="277.4" y="72.1" font-size="7.97" text-anchor="end" textLength="14.32" lengthAdjust="spacingAndGlyphs">12.5</text>
<text x="277.4" y="53.7" font-size="7.97" text-anchor="end" textLength="14.32" lengthAdjust="spacingAndGlyphs">13.0</text>
<text x="277.4" y="35.3" font-size="7.97" text-anchor="end" textLength="14.32" lengthAdjust="spacingAndGlyphs">13.5</text>
<text x="277.4" y="16.9" font-size="7.97" text-anchor="end" textLength="14.32" lengthAdjust="spacingAndGlyphs">14.0</text>
<text x="277.4" y="220.3" font-size="7.97" text-anchor="end" textLength="8.18" lengthAdjust="spacingAndGlyphs">10</text>
<text x="277.4" y="201.7" font-size="7.97" text-anchor="end" textLength="8.18" lengthAdjust="spacingAndGlyphs">20</text>
<text x="277.4" y="183.1" font-size="7.97" text-anchor="end" textLength="8.18" lengthAdjust="spacingAndGlyphs">30</text>
<text x="277.4" y="164.6" font-size="7.97" text-anchor="end" textLength="8.18" lengthAdjust="spacingAndGlyphs">40</text>
<text x="277.4" y="146.0" font-size="7.97" text-anchor="end" textLength="8.18" lengthAdjust="spacingAndGlyphs">50</text>
<text x="277.4" y="127.4" font-size="7.97" text-anchor="end" textLength="8.18" lengthAdjust="spacingAndGlyphs">60</text>
<text x="131.7" y="12.4" font-size="9.7" text-anchor="middle" textLength="7.9" lengthAdjust="spacingAndGlyphs">J3</text>
<text x="380.7" y="12.4" font-size="9.7" text-anchor="middle" textLength="7.9" lengthAdjust="spacingAndGlyphs">J3</text>
<text x="132.0" y="235.6" font-size="10.23" text-anchor="middle" textLength="118.46" lengthAdjust="spacingAndGlyphs">Distance to the coast (km)</text>
<text x="381.0" y="235.6" font-size="10.23" text-anchor="middle" textLength="118.46" lengthAdjust="spacingAndGlyphs">Distance to the coast (km)</text>
<text x="0" y="0" font-size="10.35" text-anchor="middle" textLength="68.51" lengthAdjust="spacingAndGlyphs" transform="translate(12.7,60.4) rotate(-90)">count of Range</text>
<text x="0" y="0" font-size="10.35" text-anchor="middle" textLength="68.51" lengthAdjust="spacingAndGlyphs" transform="translate(12.7,170.9) rotate(-90)">count of Range</text>
<text x="0" y="0" font-size="10.35" text-anchor="middle" textLength="68.81" lengthAdjust="spacingAndGlyphs" transform="translate(258.7,60.3) rotate(-90)">std of SLA (cm)</text>
<text x="0" y="0" font-size="10.35" text-anchor="middle" textLength="68.81" lengthAdjust="spacingAndGlyphs" transform="translate(265.3,170.8) rotate(-90)">std of SLA (cm)</text>
<text x="240.4" y="116.6" font-size="7.70" text-anchor="middle" textLength="9.33" lengthAdjust="spacingAndGlyphs">(a)</text>
<text x="240.1" y="239.2" font-size="7.70" text-anchor="middle" textLength="9.48" lengthAdjust="spacingAndGlyphs">(b)</text>
<text x="490.0" y="116.6" font-size="7.70" text-anchor="middle" textLength="8.91" lengthAdjust="spacingAndGlyphs">(c)</text>
<text x="490.3" y="239.2" font-size="7.70" text-anchor="middle" textLength="9.48" lengthAdjust="spacingAndGlyphs">(d)</text>
</g>
<rect x="185.3" y="188.3" width="43.89999999999998" height="25.599999999999994" rx="1.5" fill="#ffffff" fill-opacity="0.8" stroke="#d6d6d6" stroke-width="0.8"/>
<line x1="187.2" y1="193.1" x2="199.3" y2="193.1" stroke="#1f77b4" stroke-width="1.6"/>
<text x="203.2" y="195.1" font-size="6.27" stroke="#1a1a1a" stroke-width="0.12" textLength="14.65" lengthAdjust="spacingAndGlyphs" fill="#1a1a1a" font-family='"Liberation Sans", sans-serif'>MLE4</text>
<line x1="187.2" y1="201.2" x2="199.3" y2="201.2" stroke="#ff7f0e" stroke-width="1.6"/>
<text x="203.2" y="203.2" font-size="6.27" stroke="#1a1a1a" stroke-width="0.12" textLength="24.22" lengthAdjust="spacingAndGlyphs" fill="#1a1a1a" font-family='"Liberation Sans", sans-serif'>Adaptive</text>
<line x1="187.2" y1="209.1" x2="199.3" y2="209.1" stroke="#a8a8a8" stroke-width="1.6"/>
<text x="203.2" y="211.1" font-size="6.27" stroke="#1a1a1a" stroke-width="0.12" textLength="13.67" lengthAdjust="spacingAndGlyphs" fill="#1a1a1a" font-family='"Liberation Sans", sans-serif'>ALES</text>
<rect x="434.7" y="127.1" width="43.80000000000001" height="24.400000000000006" rx="1.5" fill="#ffffff" fill-opacity="0.8" stroke="#d6d6d6" stroke-width="0.8"/>
<line x1="436.4" y1="131.7" x2="448.5" y2="131.7" stroke="#1f77b4" stroke-width="1.6"/>
<text x="452.2" y="133.7" font-size="6.27" stroke="#1a1a1a" stroke-width="0.12" textLength="14.65" lengthAdjust="spacingAndGlyphs" fill="#1a1a1a" font-family='"Liberation Sans", sans-serif'>MLE4</text>
<line x1="436.4" y1="139.7" x2="448.5" y2="139.7" stroke="#ff7f0e" stroke-width="1.6"/>
<text x="452.2" y="141.7" font-size="6.27" stroke="#1a1a1a" stroke-width="0.12" textLength="24.22" lengthAdjust="spacingAndGlyphs" fill="#1a1a1a" font-family='"Liberation Sans", sans-serif'>Adaptive</text>
<line x1="436.4" y1="147.7" x2="448.5" y2="147.7" stroke="#a8a8a8" stroke-width="1.6"/>
<text x="452.2" y="149.7" font-size="6.27" stroke="#1a1a1a" stroke-width="0.12" textLength="13.67" lengthAdjust="spacingAndGlyphs" fill="#1a1a1a" font-family='"Liberation Sans", sans-serif'>ALES</text>
</svg>
</body></html>
